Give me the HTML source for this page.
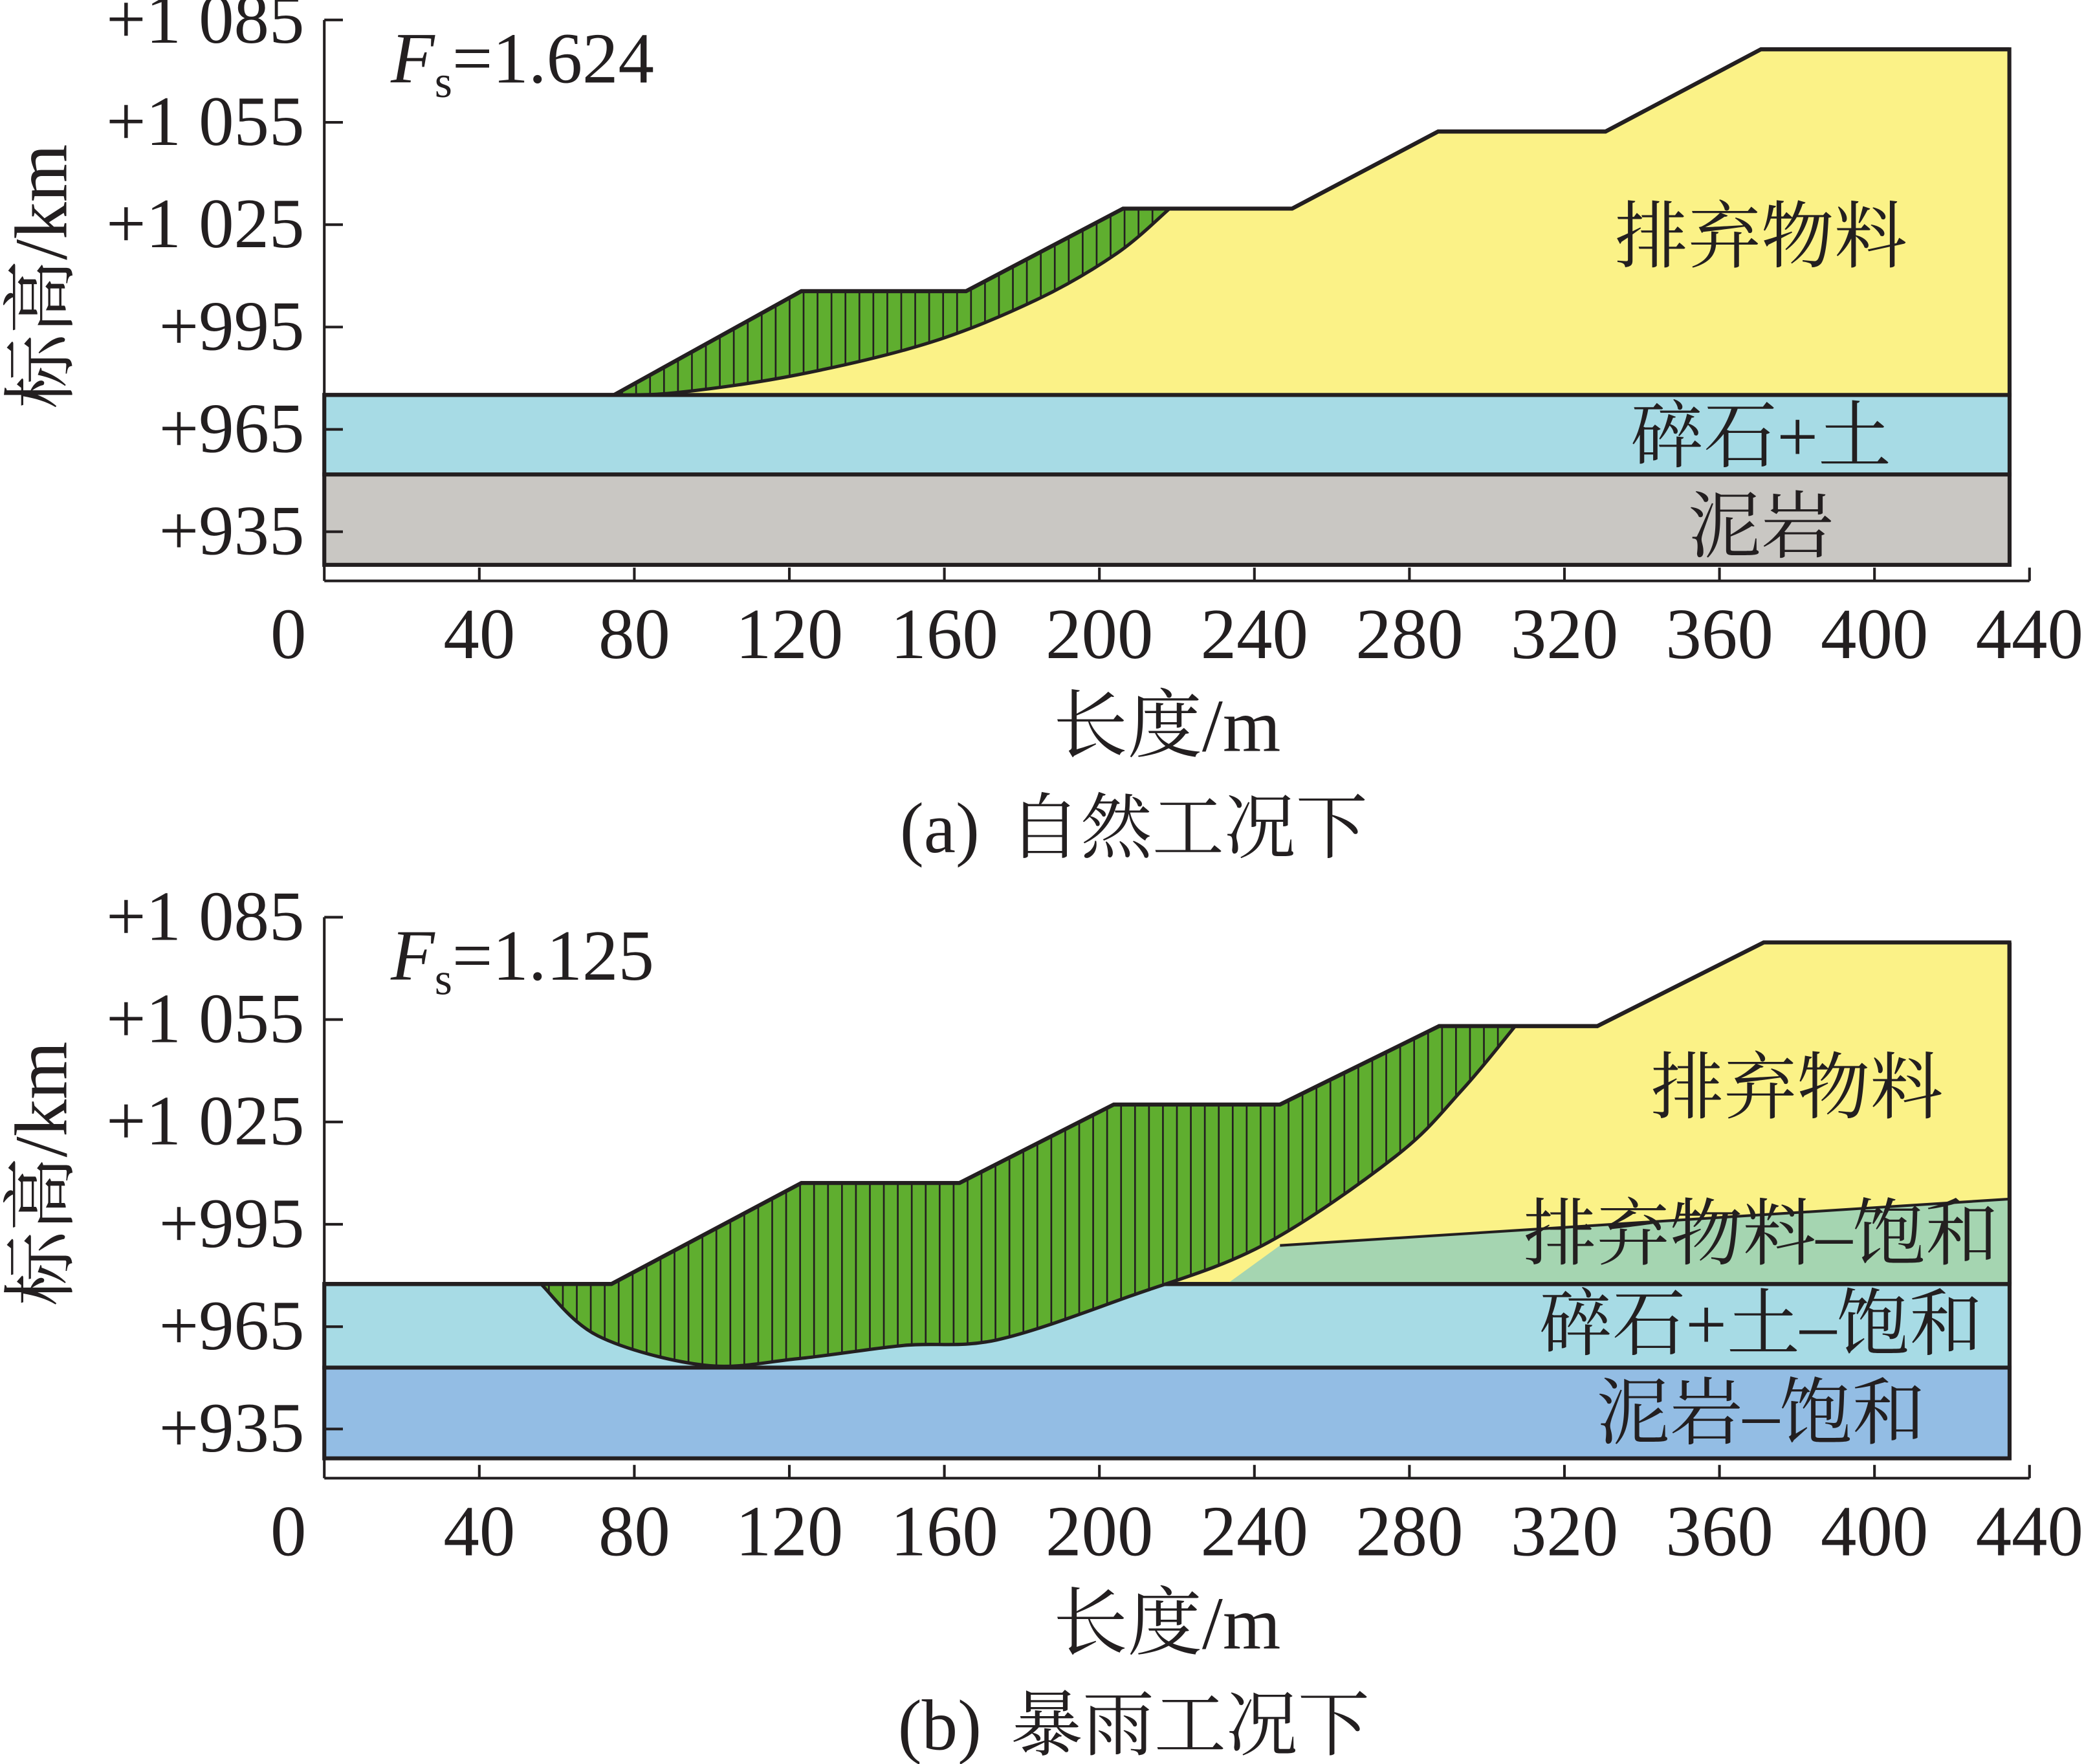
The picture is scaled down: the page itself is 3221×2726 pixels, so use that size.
<!DOCTYPE html>
<html><head><meta charset="utf-8"><style>
html,body{margin:0;padding:0;background:#fff;}
svg{display:block;}
text{font-family:"Liberation Serif","Noto Serif CJK SC",serif;fill:#231f20;}
</style></head><body>
<svg id="chart" width="3221" height="2726" viewBox="0 0 1568 1327" xmlns="http://www.w3.org/2000/svg">
<defs>
<clipPath id="clipA"><path id="clipPathA" d=""/></clipPath>
<clipPath id="clipB"><path id="clipPathB" d=""/></clipPath>
</defs>
<g id="panelA"></g>
<g id="panelB"></g>
</svg>
<script>
// ---- data (x in m, elevation in m) ----
const xTicks = [0,40,80,120,160,200,240,280,320,360,400,440];
const yTicks = [1085,1055,1025,995,965,935];
const yTickLabels = ["+1 085","+1 055","+1 025","+995","+965","+935"];
// Panel A
const aSlopeX = [74.8,123.1,165.6,206.1,249.7,287.4,330.6,370.7,434.8];
const aSlopeE = [975.1,1005.5,1005.5,1029.7,1029.7,1052.3,1052.3,1076.4,1076.4];
const aSlipX = [74.8,91.2,122.1,156.4,183.8,204.4,218.1];
const aSlipE = [975.1,975.8,981.0,990.5,1003.0,1016.5,1029.7];
const aLayers = [975.1,951.8,925.3];
const aFs = "1.624";
// Panel B
const bSlopeX = [55.9,74.1,123.1,163.9,203.7,246.6,287.7,328.5,371.4,434.8];
const bSlopeE = [977.5,977.5,1007.1,1007.1,1030.1,1030.1,1053.1,1053.1,1077.6,1077.6];
const bSlipX = [55.9,70.6,98.1,122.1,149.5,173.5,207.8,242.1,276.4,293.6,307.3];
const bSlipE = [977.5,962.3,953.7,955.6,959.5,961.1,973.9,988.8,1014.9,1034.4,1053.1];
const bLayers = [977.5,953.0,926.4];
const bSatLineX = [246.6,434.8];
const bSatLineE = [988.8,1002.4];
const bFs = "1.125";

const NS="http://www.w3.org/2000/svg";
const X0=244, XS=1283/440, X1=X0+440*XS, XR=1512;
function mk(tag,attrs,parent){const e=document.createElementNS(NS,tag);for(const k in attrs)e.setAttribute(k,attrs[k]);parent.appendChild(e);return e;}
function xp(v){return X0+v*XS;}
function smooth(pts){
  let d='';
  for(let i=0;i<pts.length-1;i++){
    const p0=pts[Math.max(0,i-1)],p1=pts[i],p2=pts[i+1],p3=pts[Math.min(pts.length-1,i+2)];
    const c1=[p1[0]+(p2[0]-p0[0])/6,p1[1]+(p2[1]-p0[1])/6];
    const c2=[p2[0]-(p3[0]-p1[0])/6,p2[1]-(p3[1]-p1[1])/6];
    d+=` C${c1[0]},${c1[1]} ${c2[0]},${c2[1]} ${p2[0]},${p2[1]}`;
  }
  return d;
}

function drawPanel(g,top,slopeX,slopeE,slipX,slipE,layers,fs,isB,clipId,cap,capCJK){
  const YS=2.5667;
  const yp=e=>top+(1085-e)*YS;
  let r=mk('rect',{x:X0,y:yp(layers[1]),width:XR-X0,height:yp(layers[2])-yp(layers[1]),fill:isB?'#93bde4':'#c9c7c3',stroke:'#231f20','stroke-width':3},g);
  
  r=mk('rect',{x:X0,y:yp(layers[0]),width:XR-X0,height:yp(layers[1])-yp(layers[0]),fill:'#a7dbe5',stroke:'#231f20','stroke-width':3},g);
  
  let d=`M${xp(slopeX[0])},${yp(slopeE[0])}`;
  for(let i=1;i<slopeX.length;i++)d+=` L${xp(slopeX[i])},${yp(slopeE[i])}`;
  d+=` L${XR},${yp(layers[0])} Z`;
  let p=mk('path',{d:d,fill:'#fbf287',stroke:'#231f20','stroke-width':3},g);
  
  if(isB){
    const sd=`M${xp(bSatLineX[0])},${yp(bSatLineE[0])} L${xp(bSatLineX[1])},${yp(bSatLineE[1])} L${XR},${yp(layers[0])} L${xp(bSatLineX[0])-40},${yp(layers[0])} Z`;
    p=mk('path',{d:sd,fill:'#a5d5b1',stroke:'none'},g);
    
    p=mk('line',{x1:xp(bSatLineX[0]),y1:yp(bSatLineE[0]),x2:xp(bSatLineX[1]),y2:yp(bSatLineE[1]),stroke:'#231f20','stroke-width':2},g);
    
    p=mk('line',{x1:X0,y1:yp(layers[0]),x2:XR,y2:yp(layers[0]),stroke:'#231f20','stroke-width':3},g);
    
    mk('line',{x1:XR,y1:yp(bSlopeE[bSlopeE.length-1]),x2:XR,y2:yp(layers[0]),stroke:'#231f20','stroke-width':3},g);
  }
  const slipPts=slipX.map((v,i)=>[xp(v),yp(slipE[i])]);
  const endX=slipX[slipX.length-1];
  let sd=`M${slipPts[0][0]},${slipPts[0][1]}`+smooth(slipPts);
  for(let i=slopeX.length-1;i>=0;i--){ if(slopeX[i]<endX && slopeX[i]>slipX[0]) sd+=` L${xp(slopeX[i])},${yp(slopeE[i])}`; }
  sd+=' Z';
  document.getElementById(clipId==='clipA'?'clipPathA':'clipPathB').setAttribute('d',sd);
  p=mk('path',{d:sd,fill:'#5fae2f',stroke:'none'},g);
  
  const hg=mk('g',{'clip-path':`url(#${clipId})`},g);
  
  for(let x=xp(slipX[0])+6;x<xp(endX);x+=10.5) mk('line',{x1:x,y1:top,x2:x,y2:top+500,stroke:'#231f20','stroke-width':1.3},hg);
  p=mk('path',{d:`M${slipPts[0][0]},${slipPts[0][1]}`+smooth(slipPts),fill:'none',stroke:'#231f20','stroke-width':2.5},g);
  
  let od=`M${xp(slopeX[0])},${yp(slopeE[0])}`;
  for(let i=1;i<slopeX.length;i++)od+=` L${xp(slopeX[i])},${yp(slopeE[i])}`;
  mk('path',{d:od,fill:'none',stroke:'#231f20','stroke-width':3},g);
  mk('line',{x1:X0,y1:yp(layers[0]),x2:xp(slopeX[0]),y2:yp(slopeE[0]),stroke:'#231f20','stroke-width':3},g);
  const axY=top+422;
  let a=mk('line',{x1:X0,y1:top,x2:X0,y2:axY,stroke:'#231f20','stroke-width':2},g);
  
  a=mk('line',{x1:X0,y1:axY,x2:X1,y2:axY,stroke:'#231f20','stroke-width':2},g);
  
  yTicks.forEach((v,i)=>{
    mk('line',{x1:X0,y1:yp(v),x2:X0+14,y2:yp(v),stroke:'#231f20','stroke-width':2},g);
    const t=mk('text',{x:229,y:yp(v)+17,'text-anchor':'end','font-size':53},g);
    
    t.textContent=yTickLabels[i];
  });
  xTicks.forEach(v=>{
    if(v>0) mk('line',{x1:xp(v),y1:axY,x2:xp(v),y2:axY-10,stroke:'#231f20','stroke-width':2},g);
    const t=mk('text',{x:v===0?217:xp(v),y:top+480,'text-anchor':'middle','font-size':54},g);
    
    t.textContent=v;
  });
  let t=mk('text',{x:878,y:top+550,'text-anchor':'middle','font-size':56},g);
  t.textContent='长度/m';
  t=mk('text',{x:0,y:0,'text-anchor':'middle','font-size':56,transform:`translate(50,${top+193}) rotate(-90)`},g);
  t.textContent='标高/km';
  t=mk('text',{x:294,y:top+47,'font-size':54},g);
  
  t.innerHTML=`<tspan font-style="italic">F</tspan><tspan font-size="34" dy="11">s</tspan><tspan dy="-11">=${fs}</tspan>`;
  t=mk('text',{x:853,y:top+626,'text-anchor':'middle','font-size':54},g);
  
  t.innerHTML=`${cap}<tspan dx="22">${capCJK}</tspan>`;
}
const gA=document.getElementById('panelA'), gB=document.getElementById('panelB');
drawPanel(gA,15,aSlopeX,aSlopeE,aSlipX,aSlipE,aLayers,aFs,false,'clipA','(a)','自然工况下');
drawPanel(gB,690,bSlopeX,bSlopeE,bSlipX,bSlipE,bLayers,bFs,true,'clipB','(b)','暴雨工况下');
function lbl(g,x,y,s,name){const t=mk('text',{x:x,y:y,'text-anchor':'middle','font-size':55},g);t.textContent=s;}
lbl(gA,1325,197,'排弃物料','label-waste');
lbl(gA,1325,347,'碎石+土','label-gravel');
lbl(gA,1325,415,'泥岩','label-mudstone');
lbl(gB,1352,837,'排弃物料','label-waste');
lbl(gB,1325,947,'排弃物料–饱和','label-waste-saturated');
lbl(gB,1325,1015,'碎石+土–饱和','label-gravel-saturated');
lbl(gB,1325,1082,'泥岩–饱和','label-mudstone-saturated');
</script>
</body></html>
